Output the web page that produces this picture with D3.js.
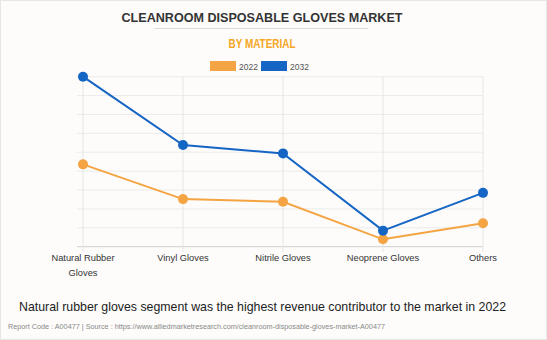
<!DOCTYPE html>
<html><head><meta charset="utf-8">
<script src="https://cdn.jsdelivr.net/npm/d3@7"></script>
<style>
html,body{margin:0;padding:0;background:#fff;}
svg{display:block;font-family:"Liberation Sans",Arial,sans-serif;}
</style></head>
<body>
<svg id="c" width="547" height="340"></svg>
<script>
const categories = ["Natural Rubber Gloves", "Vinyl Gloves", "Nitrile Gloves", "Neoprene Gloves", "Others"];
const seriesNames = ["2022", "2032"];
const values2022 = [436, 252, 238, 39, 124];
const values2032 = [900, 538, 494, 85, 285];
const colors = ["#f4a442", "#1565c4"];

const svg = d3.select("#c");
const W = 547, H = 340;
svg.append("rect").attr("x",0.5).attr("y",0.5).attr("width",W-1).attr("height",H-1)
  .attr("fill","#fdfcfb").attr("stroke","#e6e6e6");

svg.append("text").attr("x",262).attr("y",22).attr("text-anchor","middle")
  .attr("font-size",13).attr("font-weight","bold").attr("fill","#333")
  .attr("textLength",281).attr("lengthAdjust","spacingAndGlyphs")
  .text("CLEANROOM DISPOSABLE GLOVES MARKET");
svg.append("line").attr("x1",154).attr("x2",368).attr("y1",28.5).attr("y2",28.5)
  .attr("stroke","#dcdcdc");
svg.append("text").attr("x",262).attr("y",48).attr("text-anchor","middle")
  .attr("font-size",12).attr("font-weight","bold").attr("fill","#f5a623")
  .attr("textLength",67).attr("lengthAdjust","spacingAndGlyphs")
  .text("BY MATERIAL");

// legend
const lg = svg.append("g");
[[210,0],[261,1]].forEach(([x,i])=>{
  lg.append("rect").attr("x",x).attr("y",61).attr("width",26).attr("height",10).attr("fill",colors[i]);
  lg.append("text").attr("x",x+29).attr("y",69.5).attr("font-size",8.5).attr("fill","#555").text(seriesNames[i]);
});

const x = d3.scalePoint().domain(categories).range([83,483]);
const y = d3.scaleLinear().domain([0,900]).range([246.7,76.7]);

const g = svg.append("g");
const yt = d3.range(0,901,100);
g.selectAll(".hg").data(yt).enter().append("line")
  .attr("x1",77).attr("x2",483).attr("y1",d=>y(d)).attr("y2",d=>y(d))
  .attr("stroke",d=>d===0?"#cfcfcf":"#ebebeb").attr("stroke-width",1);
g.selectAll(".vg").data(categories).enter().append("line")
  .attr("x1",d=>x(d)).attr("x2",d=>x(d)).attr("y1",76.7).attr("y2",252)
  .attr("stroke","#e6e6e6");

categories.forEach(c=>{
  const t = g.append("text").attr("x",x(c)).attr("y",261).attr("text-anchor","middle")
    .attr("font-size",9.3).attr("fill","#333");
  if(c==="Natural Rubber Gloves"){
    t.append("tspan").attr("x",x(c)).attr("dy",0).text("Natural Rubber");
    t.append("tspan").attr("x",x(c)).attr("dy",14.5).text("Gloves");
  } else t.text(c);
});

const line = d3.line().x((d,i)=>x(categories[i])).y(d=>y(d));
[values2022, values2032].forEach((vals,si)=>{
  g.append("path").datum(vals).attr("d",line).attr("fill","none")
    .attr("stroke",colors[si]).attr("stroke-width",2);
  g.selectAll(".p"+si).data(vals).enter().append("circle")
    .attr("cx",(d,i)=>x(categories[i])).attr("cy",d=>y(d)).attr("r",5)
    .attr("fill",colors[si]);
});

svg.append("text").attr("x",262.5).attr("y",311).attr("text-anchor","middle")
  .attr("font-size",13.3).attr("fill","#222")
  .attr("textLength",487).attr("lengthAdjust","spacingAndGlyphs")
  .text("Natural rubber gloves segment was the highest revenue contributor to the market in 2022");
svg.append("text").attr("x",8).attr("y",329).attr("font-size",7.6).attr("fill","#888")
  .attr("textLength",377).attr("lengthAdjust","spacingAndGlyphs")
  .text("Report Code : A00477  |  Source : https://www.alliedmarketresearch.com/cleanroom-disposable-gloves-market-A00477");
</script>
</body></html>
